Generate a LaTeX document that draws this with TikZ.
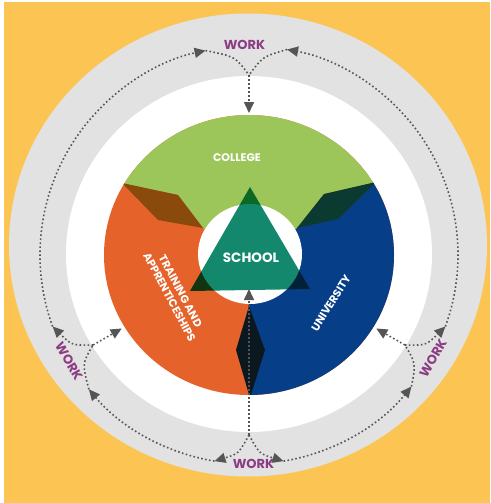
\documentclass[tikz,border=0pt]{standalone}
\usepackage{fontspec}
\newfontfamily\pop{Poppins}
\usetikzlibrary{arrows.meta}
\definecolor{bgyellow}{HTML}{FCC553}
\definecolor{ringgrey}{HTML}{E2E2E2}
\definecolor{segorange}{HTML}{E5632A}
\definecolor{segblue}{HTML}{063F88}
\definecolor{seggreen}{HTML}{9DC65A}
\definecolor{foldbrown}{HTML}{8A4A0C}
\definecolor{foldteal}{HTML}{0B3A30}
\definecolor{folddark}{HTML}{0C1820}
\definecolor{schoolteal}{HTML}{13886C}
\definecolor{dotgrey}{HTML}{555555}
\definecolor{workpurple}{HTML}{8C3C84}
\tikzset{
  dotline/.style={draw=dotgrey, line width=1.6pt, dash pattern=on 1.6pt off 2.4pt},
  tipped/.style={dotline, -{Triangle[length=11pt,width=10pt]}},
  worklabel/.style={font=\pop\bfseries\fontsize{13}{15}\selectfont, text=workpurple, inner sep=1pt},
  seglabel/.style={font=\pop\bfseries\fontsize{11}{12.5}\selectfont, text=white, align=center, inner sep=0pt}
}
\begin{document}
\begin{tikzpicture}[x=1pt,y=-1pt]
\useasboundingbox (0,0) rectangle (490,503);
\fill[white] (0,0) rectangle (490,503);
\fill[bgyellow] (4,2) rectangle (490,503);
\fill[ringgrey] (248,245) ellipse [x radius=239pt, y radius=231.5pt];
\fill[white] (249,254) ellipse [x radius=183pt, y radius=178pt];
\begin{scope}
  \clip (249,255) ellipse [x radius=145pt, y radius=140pt];
  \fill[segorange] (80,80) rectangle (430,430);
  \fill[segblue] (250,254) -- (297,228) -- (370,184) -- (430,150) -- (430,430) -- (249,430) -- (249,254) -- cycle;
  \fill[seggreen] (250,254) -- (203,228) -- (178,195) -- (126,184) -- (80,150) -- (80,80) -- (430,80) -- (430,150) -- (372,183) -- (324,194) -- (297,228) -- cycle;
  \fill[foldbrown] (122,183) -- (178,195) -- (203,228) -- (158,220) -- cycle;
  \fill[foldteal] (376,182) -- (324,194) -- (297,228) -- (338,219) -- cycle;
  \fill[folddark] (249,306) -- (236,350) -- (250,398) -- (265,350) -- cycle;
\end{scope}
\fill[white] (250,254) ellipse [x radius=52pt, y radius=50pt];
\begin{scope}[blend mode=multiply]
  \fill[schoolteal] (250,187) -- (190,291) -- (310,289) -- cycle;
\end{scope}
\node[font=\pop\bfseries\fontsize{13.5}{15}\selectfont, text=white] (school) at (251,258) {SCHOOL};
\node[seglabel] (college) at (237,158) {COLLEGE};
\node[seglabel, rotate=-62] (training) at (175,294) {TRAINING AND\\APPRENTICESHIPS};
\node[seglabel, rotate=58] (university) at (331,303) {UNIVERSITY};
\begin{scope}[shift={(249,255)}]
  \coordinate (Jt) at (-90:180);
  \coordinate (Jl) at (-210:180);
  \coordinate (Jr) at (-330:180);
  \coordinate (Jb) at (-270:180);
  \coordinate (Tt) at (-90:142);
  \coordinate (Tl) at (-210:147);
  \coordinate (Tr) at (-330:147);
  \coordinate (Tb) at (-270:34);
  \coordinate (t1) at (-102:209);
  \coordinate (t2) at (-79.5:209);
  \coordinate (l1) at (-200:209);
  \coordinate (l2) at (-220:209);
  \coordinate (b1) at (-260.5:209);
  \coordinate (b2) at (-279.5:209);
  \coordinate (r1) at (-321:209);
  \coordinate (r2) at (-340:209);
  % arcs
  \draw[tipped] (l1) arc[start angle=-200, end angle=-102, radius=209];
  \draw[tipped] (b1) arc[start angle=-260.5, end angle=-220, radius=209];
  \draw[tipped] (b2) arc[start angle=-279.5, end angle=-321, radius=209];
  \draw[tipped] (r2) arc[start angle=-340, end angle=-439.5, radius=209];
  % branches
  \draw[dotline] (t1) .. controls (-94:199) .. (Jt);
  \draw[dotline] (t2) .. controls (-86:199) .. (Jt);
  \draw[dotline] (l2) .. controls (-213:199) .. (Jl);
  \draw[tipped] (Jl) .. controls (-207:199) .. (l1);
  \draw[dotline] (r1) .. controls (-327:199) .. (Jr);
  \draw[tipped] (Jr) .. controls (-333:199) .. (r2);
  \draw[tipped] (Jb) .. controls (-267:199) .. (b1);
  \draw[tipped] (Jb) .. controls (-273:199) .. (b2);
  % inward arrows
  \draw[tipped] (Jt) -- (Tt);
  \draw[tipped] (Jl) -- (Tl);
  \draw[tipped] (Jr) -- (Tr);
  \draw[tipped] (Jb) -- (Tb);
\end{scope}
\node[worklabel] (wtop) at (244.5,45) {WORK};
\node[worklabel] (wbot) at (253.5,464) {WORK};
\node[worklabel, rotate=-60] (wleft) at (69,361) {WORK};
\node[worklabel, rotate=60] (wright) at (433,358) {WORK};
\end{tikzpicture}
\end{document}
